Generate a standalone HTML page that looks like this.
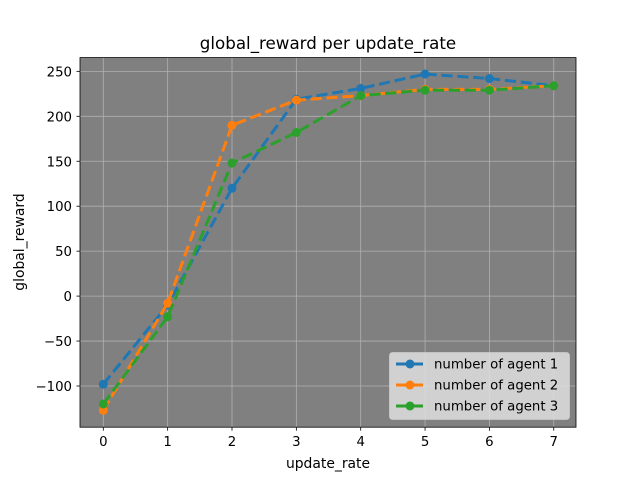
<!DOCTYPE html>
<html><head><meta charset="utf-8"><style>
body{margin:0;background:#fff}
svg{display:block;font-family:"DejaVu Sans","Liberation Sans",sans-serif}
</style></head><body>
<svg id="chart" width="640" height="480" viewBox="0 0 640 480">
<rect width="640" height="480" fill="#fff"/>
<rect x="80" y="57.6" width="496" height="369.6" fill="#808080"/>
<g id="grid"></g><g id="ticks"></g><g id="series"></g>
<rect x="80" y="57.6" width="496" height="369.6" fill="none" stroke="#000" stroke-width="0.8"/>
<text x="328" y="49" text-anchor="middle" font-size="16.7">global_reward per update_rate</text>
<text x="328" y="468" text-anchor="middle" font-size="13.9">update_rate</text>
<text transform="translate(24,242) rotate(-90)" text-anchor="middle" font-size="13.9">global_reward</text>
<g id="legend">
<rect x="389.5" y="352.5" width="180" height="67" rx="3" fill="#e5e5e5" fill-opacity="0.8" stroke="#ccc" stroke-width="0.8"/>
</g>
</svg>
<script>
const categories=[0,1,2,3,4,5,6,7];
const agent1=[-98,-10,120,219,231,247,242,234];
const agent2=[-127,-8,190,218,223,230,230,234];
const agent3=[-120,-23,148,182,223,229,229,234];
const seriesNames=["number of agent 1","number of agent 2","number of agent 3"];
const yTicks=[-100,-50,0,50,100,150,200,250];
const xTicks=[0,1,2,3,4,5,6,7];
const colors=["#1f77b4","#ff7f0e","#2ca02c"];
const NS="http://www.w3.org/2000/svg";
const X=v=>103.3+v*64.35;
const Y=v=>296.1-v*0.899;
function mk(t,a,p){const e=document.createElementNS(NS,t);for(const k in a)e.setAttribute(k,a[k]);p.appendChild(e);return e;}
const grid=document.getElementById('grid'),ticks=document.getElementById('ticks'),ser=document.getElementById('series');
xTicks.forEach(t=>{
 const l=mk('line',{x1:X(t),x2:X(t),y1:57.6,y2:427.2,stroke:'#b0b0b0','stroke-width':0.8},grid);
 
 
 mk('line',{x1:X(t),x2:X(t),y1:427.2,y2:430.7,stroke:'#000','stroke-width':0.8},ticks);
 const tx=mk('text',{x:X(t),y:446,'text-anchor':'middle','font-size':13.3},ticks);tx.textContent=t;
 
 
});
yTicks.forEach(t=>{
 const l=mk('line',{x1:80,x2:576,y1:Y(t),y2:Y(t),stroke:'#b0b0b0','stroke-width':0.8},grid);
 
 
 mk('line',{x1:76.5,x2:80,y1:Y(t),y2:Y(t),stroke:'#000','stroke-width':0.8},ticks);
 const tx=mk('text',{x:72,y:Y(t)+5,'text-anchor':'end','font-size':13.3},ticks);tx.textContent=(t<0?'\u2212'+(-t):t);
 
 
});
[agent1,agent2,agent3].forEach((d,i)=>{
 const g=mk('g',{},ser);
 
 
 mk('polyline',{points:d.map((v,j)=>X(categories[j])+','+Y(v)).join(' '),fill:'none',stroke:colors[i],'stroke-width':3,'stroke-dasharray':'11.1 4.8'},g);
 d.forEach((v,j)=>{const c=mk('circle',{cx:X(categories[j]),cy:Y(v),r:4.5,fill:colors[i]},g);
  
  });
 const lg=document.getElementById('legend');const ly=364+i*21;
 mk('line',{x1:396,x2:424,y1:ly,y2:ly,stroke:colors[i],'stroke-width':3,'stroke-dasharray':'11.1 4.8'},lg);
 mk('circle',{cx:410,cy:ly,r:4.5,fill:colors[i]},lg);
 const t=mk('text',{x:434,y:ly+4.5,'font-size':13.3},lg);t.textContent=seriesNames[i];
 
 
});
</script>
</body></html>
